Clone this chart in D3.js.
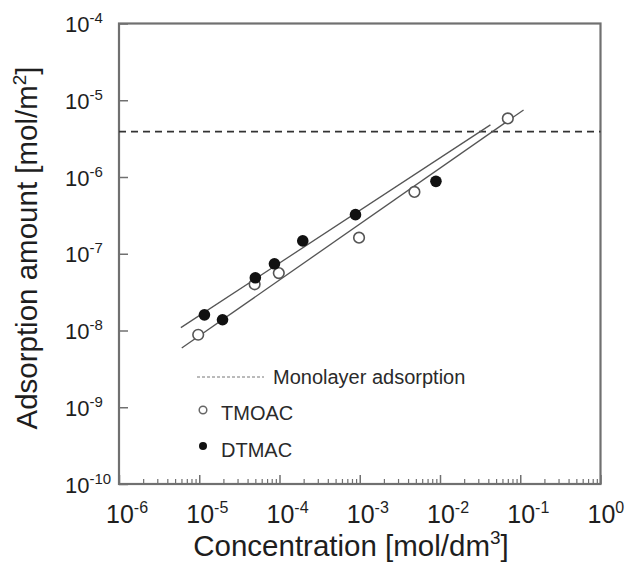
<!DOCTYPE html>
<html>
<head>
<meta charset="utf-8">
<script src="https://cdn.jsdelivr.net/npm/d3@7/dist/d3.min.js"></script>
<style>
  html, body { margin: 0; padding: 0; background: #fff; }
  svg { display: block; font-family: "Liberation Sans", Arial, sans-serif; }
</style>
</head>
<body>
<svg id="chart" width="628" height="569"></svg>
<script>
// Adsorption isotherms (log-log)
const tmoacConc = [9.7e-6, 4.9e-5, 9.8e-5, 9.8e-4, 4.8e-3, 7.0e-2];
const tmoacAds  = [8.8e-9, 4.0e-8, 5.6e-8, 1.62e-7, 6.4e-7, 5.8e-6];

const dtmacConc = [1.16e-5, 1.95e-5, 5.0e-5, 8.65e-5, 1.95e-4, 8.85e-4, 8.9e-3];
const dtmacAds  = [1.6e-8, 1.38e-8, 4.86e-8, 7.4e-8, 1.47e-7, 3.23e-7, 8.77e-7];

// Fitted straight lines (end points, log-log)
const dtmacFitConc = [5.9e-6, 4.25e-2];
const dtmacFitAds  = [1.09e-8, 4.78e-6];
const tmoacFitConc = [6.05e-6, 0.110];
const tmoacFitAds  = [5.9e-9, 7.48e-6];

const monolayerAds = 3.9e-6;

const xExponents = [-6, -5, -4, -3, -2, -1, 0];
const yExponents = [-4, -5, -6, -7, -8, -9, -10];

const legendLabels = ["Monolayer adsorption", "TMOAC", "DTMAC"];
const xTitle = "Concentration [mol/dm";
const yTitle = "Adsorption amount [mol/m";

const svg = d3.select("#chart");
const L = 119, R = 600.5, T = 23.5, B = 484;

const x = d3.scaleLog().domain([1e-6, 1]).range([L, R]);
const y = d3.scaleLog().domain([1e-10, 1e-4]).range([B, T]);

const frameColor = "#707070";
const textColor = "#1e1e1e";

// minor ticks along the concentration axis
const minorX = [];
for (let e = -6; e < 0; e++) for (let m = 2; m <= 9; m++) minorX.push(m * Math.pow(10, e));

svg.append("g")
  .attr("transform", `translate(0,${B})`)
  .call(d3.axisBottom(x).tickValues(minorX).tickSize(-5).tickFormat(""))
  .call(g => g.select(".domain").remove())
  .selectAll("line").attr("stroke", frameColor).attr("stroke-width", 1.2);

svg.append("g")
  .attr("transform", `translate(0,${B})`)
  .call(d3.axisBottom(x).tickValues(xExponents.map(e => Math.pow(10, e))).tickSize(-9).tickFormat(""))
  .call(g => g.select(".domain").remove())
  .selectAll("line").attr("stroke", frameColor).attr("stroke-width", 1.5);

svg.append("g")
  .attr("transform", `translate(${L},0)`)
  .call(d3.axisLeft(y).tickValues(yExponents.map(e => Math.pow(10, e))).tickSize(-9).tickFormat(""))
  .call(g => g.select(".domain").remove())
  .selectAll("line").attr("stroke", frameColor).attr("stroke-width", 1.5);

// frame
svg.append("rect")
  .attr("x", L).attr("y", T).attr("width", R - L).attr("height", B - T)
  .attr("fill", "none").attr("stroke", frameColor).attr("stroke-width", 2.2);

// tick labels: x
const xl = svg.append("g").attr("fill", textColor);
xExponents.forEach(e => {
  const t = xl.append("text")
    .attr("x", x(Math.pow(10, e)) - 13).attr("y", 523)
    .attr("font-size", 25);
  t.append("tspan").text("10");
  t.append("tspan").attr("font-size", 16).attr("dy", -10).text(e);
});

// tick labels: y
const yl = svg.append("g").attr("fill", textColor);
yExponents.forEach(e => {
  const t = yl.append("text")
    .attr("x", 65).attr("y", y(Math.pow(10, e)) + 8.5)
    .attr("font-size", 22);
  t.append("tspan").text("10");
  t.append("tspan").attr("font-size", 15).attr("dy", -9).text(e);
});

// axis titles
const xt = svg.append("text")
  .attr("x", 351).attr("y", 556).attr("text-anchor", "middle")
  .attr("font-size", 29.5).attr("fill", textColor);
xt.append("tspan").text(xTitle);
xt.append("tspan").attr("font-size", 19).attr("dy", -12).text("3");
xt.append("tspan").attr("dy", 12).text("]");

const yt = svg.append("text")
  .attr("transform", "translate(37,248) rotate(-90)")
  .attr("text-anchor", "middle")
  .attr("font-size", 29.5).attr("fill", textColor);
yt.append("tspan").text(yTitle);
yt.append("tspan").attr("font-size", 19).attr("dy", -11).text("2");
yt.append("tspan").attr("dy", 11).text("]");

// monolayer adsorption level
svg.append("line")
  .attr("x1", L).attr("x2", R)
  .attr("y1", y(monolayerAds)).attr("y2", y(monolayerAds))
  .attr("stroke", "#333").attr("stroke-width", 1.6)
  .attr("stroke-dasharray", "7,5");

// fitted lines
const line = d3.line().x(d => x(d[0])).y(d => y(d[1]));
[[dtmacFitConc, dtmacFitAds], [tmoacFitConc, tmoacFitAds]].forEach(([cs, as]) => {
  svg.append("path")
    .attr("d", line(d3.zip(cs, as)))
    .attr("fill", "none").attr("stroke", "#555").attr("stroke-width", 1.3);
});

// data points
svg.append("g").selectAll("circle")
  .data(d3.zip(tmoacConc, tmoacAds)).join("circle")
  .attr("cx", d => x(d[0])).attr("cy", d => y(d[1])).attr("r", 5.3)
  .attr("fill", "#fff").attr("stroke", "#555").attr("stroke-width", 1.6);

svg.append("g").selectAll("circle")
  .data(d3.zip(dtmacConc, dtmacAds)).join("circle")
  .attr("cx", d => x(d[0])).attr("cy", d => y(d[1])).attr("r", 5.8)
  .attr("fill", "#111");

// legend
const lg = svg.append("g").attr("font-size", 20).attr("fill", "#2a2a2a");
lg.append("line")
  .attr("x1", 197).attr("x2", 264).attr("y1", 377).attr("y2", 377)
  .attr("stroke", "#777").attr("stroke-width", 1).attr("stroke-dasharray", "3,2");
lg.append("text").attr("x", 273).attr("y", 384).text(legendLabels[0]);
lg.append("circle").attr("cx", 203).attr("cy", 410).attr("r", 3.8)
  .attr("fill", "#fff").attr("stroke", "#666").attr("stroke-width", 1.5);
lg.append("text").attr("x", 221).attr("y", 420).text(legendLabels[1]);
lg.append("circle").attr("cx", 203).attr("cy", 446).attr("r", 4)
  .attr("fill", "#111");
lg.append("text").attr("x", 221).attr("y", 457).text(legendLabels[2]);
</script>
</body>
</html>
